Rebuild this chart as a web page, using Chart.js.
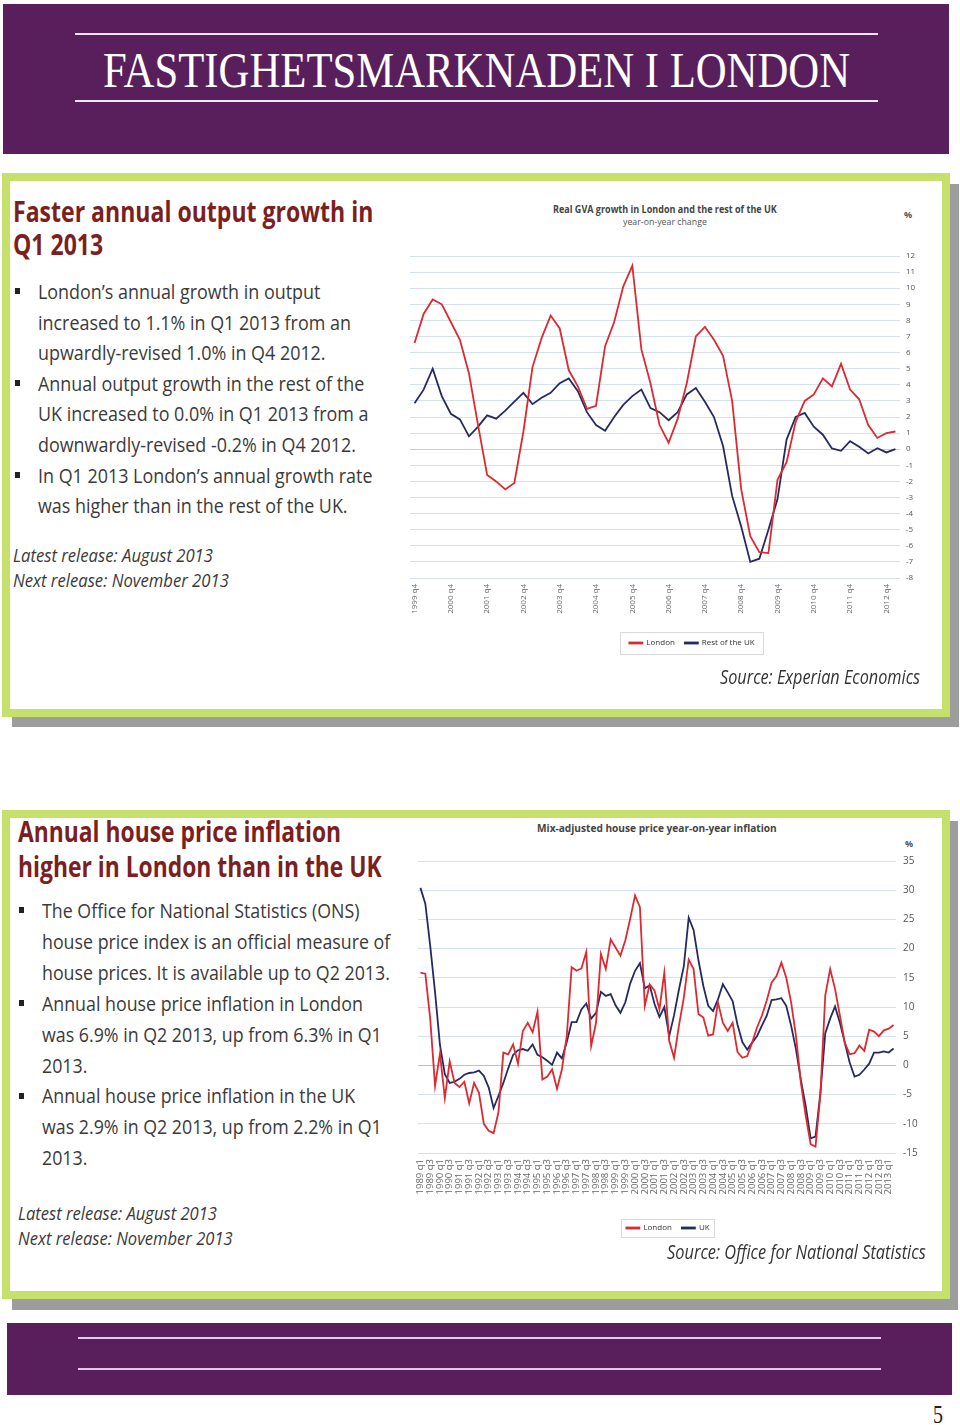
<!DOCTYPE html>
<html>
<head>
<meta charset="utf-8">
<script src="https://cdn.jsdelivr.net/npm/chart.js@4.4.0/dist/chart.umd.min.js"></script>
<style>
  html, body { margin: 0; padding: 0; background: #fff; }
  body { width: 960px; height: 1425px; position: relative; overflow: hidden; font-family: "Open Sans", sans-serif; }
  .band { position: absolute; background: #581f5c; }
  .rule { position: absolute; height: 2px; background: #f1e7f2; }
  .shadow { position: absolute; background: #9d9d9d; }
  .panel { position: absolute; background: #fff; border: 8px solid #c6e06c; box-sizing: border-box; }
  .txt { position: absolute; white-space: nowrap; transform-origin: 0 0; }
  .txt > div { width: max-content; }
  .head { font-weight: 700; color: #7b1f1f; font-size: 29px; }
  .body { color: #3a3a3a; font-size: 20px; line-height: 30.6px; }
  .note { font-style: italic; color: #3a3a3a; font-size: 18px; line-height: 25px; }
  .src { font-style: italic; color: #333; font-size: 20px; line-height: 27px; }
  .ct { font-weight: 700; color: #444; font-size: 10px; line-height: 14px; }
  .bullet { position: absolute; width: 5px; height: 6px; background: #222; }
  canvas { position: absolute; }
</style>
</head>
<body>

<!-- header band -->
<div class="band" style="left:3px;top:4px;width:946px;height:150px"></div>
<div class="rule" style="left:75px;top:33px;width:803px"></div>
<div class="rule" style="left:75px;top:100px;width:803px"></div>
<div class="txt fit" data-w="747" style="left:103px;top:41px;font-family:'Liberation Serif',serif;font-size:50px;color:#fff"><div>FASTIGHETSMARKNADEN I LONDON</div></div>

<!-- panel 1 -->
<div class="shadow" style="left:12px;top:184px;width:947px;height:543px"></div>
<div class="panel" style="left:2px;top:173px;width:948px;height:544px"></div>

<div class="txt head fit" data-w="360" style="left:13px;top:194px;line-height:33px">
  <div>Faster annual output growth in</div>
  <div>Q1 2013</div>
</div>
<div class="bullet" style="left:15px;top:288px"></div>
<div class="bullet" style="left:15px;top:380px"></div>
<div class="bullet" style="left:15px;top:472px"></div>
<div class="txt body fit" data-w="282" style="left:38px;top:277px">
  <div>London’s annual growth in output</div>
  <div>increased to 1.1% in Q1 2013 from an</div>
  <div>upwardly-revised 1.0% in Q4 2012.</div>
  <div>Annual output growth in the rest of the</div>
  <div>UK increased to 0.0% in Q1 2013 from a</div>
  <div>downwardly-revised -0.2% in Q4 2012.</div>
  <div>In Q1 2013 London’s annual growth rate</div>
  <div>was higher than in the rest of the UK.</div>
</div>
<div class="txt note fit" data-w="200" style="left:13px;top:543px">
  <div>Latest release: August 2013</div>
  <div>Next release: November 2013</div>
</div>

<div class="txt ct fit" data-w="224" style="left:553px;top:202px"><div>Real GVA growth in London and the rest of the UK</div></div>
<div class="txt fit" data-w="84" style="left:623px;top:216px;font-size:9px;line-height:12px;color:#555"><div>year-on-year change</div></div>
<div class="txt" style="left:904px;top:209px;font-size:9px;line-height:12px;font-weight:700;color:#555"><div>%</div></div>
<canvas id="gvaChart" width="540" height="435" style="left:400px;top:230px;width:540px;height:435px"></canvas>
<div class="txt src fit" data-w="200" style="left:720px;top:663px"><div>Source: Experian Economics</div></div>

<!-- panel 2 -->
<div class="shadow" style="left:12px;top:821px;width:946px;height:489px"></div>
<div class="panel" style="left:2px;top:810px;width:948px;height:489px"></div>

<div class="txt head fit" data-w="364" data-line="1" style="left:18px;top:813px;line-height:35px">
  <div>Annual house price inflation</div>
  <div>higher in London than in the UK</div>
</div>
<div class="bullet" style="left:19px;top:907px"></div>
<div class="bullet" style="left:19px;top:1000px"></div>
<div class="bullet" style="left:19px;top:1093px"></div>
<div class="txt body fit" data-w="348" data-line="2" style="left:42px;top:896px;line-height:30.9px">
  <div>The Office for National Statistics (ONS)</div>
  <div>house price index is an official measure of</div>
  <div>house prices. It is available up to Q2 2013.</div>
  <div>Annual house price inflation in London</div>
  <div>was 6.9% in Q2 2013, up from 6.3% in Q1</div>
  <div>2013.</div>
  <div>Annual house price inflation in the UK</div>
  <div>was 2.9% in Q2 2013, up from 2.2% in Q1</div>
  <div>2013.</div>
</div>
<div class="txt note fit" data-w="199" style="left:18px;top:1201px">
  <div>Latest release: August 2013</div>
  <div>Next release: November 2013</div>
</div>

<div class="txt ct fit" data-w="240" style="left:537px;top:821px;font-size:10.5px"><div>Mix-adjusted house price year-on-year inflation</div></div>
<div class="txt" style="left:905px;top:838px;font-size:9px;line-height:12px;font-weight:700;color:#555"><div>%</div></div>
<canvas id="hpiChart" width="540" height="410" style="left:400px;top:840px;width:540px;height:410px"></canvas>
<div class="txt src fit" data-w="259" style="left:667px;top:1238px"><div>Source: Office for National Statistics</div></div>

<!-- footer band -->
<div class="band" style="left:7px;top:1323px;width:945px;height:72px"></div>
<div class="rule" style="left:78px;top:1337px;width:803px;background:#e6c8ee"></div>
<div class="rule" style="left:78px;top:1368px;width:803px;background:#e6c8ee"></div>
<div class="txt fit" data-w="10" style="left:933px;top:1400px;font-family:'Liberation Serif',serif;font-size:26px;color:#222"><div>5</div></div>

<script>
// ---- data: real GVA growth, year-on-year % (1999 q4 .. 2013 q1)
const londonGva = [6.6, 8.4, 9.3, 9.0, 7.9, 6.8, 4.7, 1.5, -1.6, -2.0,
  -2.5, -2.1, 1.1, 5.1, 6.9, 8.3, 7.5, 4.9, 3.9, 2.5,
  2.7, 6.4, 7.9, 10.1, 11.4, 6.2, 4.1, 1.5, 0.4, 1.9,
  4.1, 7.0, 7.6, 6.8, 5.8, 3.0, -2.5, -5.4, -6.4, -6.45,
  -1.9, -0.8, 1.7, 3.0, 3.4, 4.4, 3.9, 5.3, 3.7, 3.1,
  1.5, 0.7, 1.0, 1.1];
const restUkGva = [2.85, 3.7, 5.0, 3.3, 2.2, 1.85, 0.8, 1.4, 2.1, 1.9,
  2.4, 2.95, 3.5, 2.8, 3.2, 3.5, 4.1, 4.4, 3.6, 2.3,
  1.5, 1.15, 2.0, 2.75, 3.3, 3.7, 2.55, 2.3, 1.8, 2.3,
  3.4, 3.8, 2.95, 2.0, 0.2, -2.9, -4.8, -7.0, -6.8, -5.0,
  -3.1, 0.6, 2.0, 2.25, 1.4, 0.9, 0.05, -0.1, 0.5, 0.15,
  -0.27, 0.06, -0.2, 0.0];
const gvaTickLabels = ['1999 q4', '2000 q4', '2001 q4', '2002 q4', '2003 q4', '2004 q4', '2005 q4',
  '2006 q4', '2007 q4', '2008 q4', '2009 q4', '2010 q4', '2011 q4', '2012 q4'];
const gvaYTicks = [-8, -7, -6, -5, -4, -3, -2, -1, 0, 1, 2, 3, 4, 5, 6, 7, 8, 9, 10, 11, 12];

// ---- data: mix-adjusted house price inflation, % (1989 q1 .. 2013 q2)
const londonHpi = [15.9, 15.7, 8.0, -3.5, 2.0, -5.6, 0.7, -3.0, -3.7, -2.8,
  -6.5, -3.0, -4.7, -10.0, -11.2, -11.6, -8.0, 2.2, 1.9, 3.6,
  0.3, 5.9, 7.3, 5.7, 9.2, -2.4, -1.9, -0.7, -4.0, -0.7,
  5.0, 16.8, 16.2, 16.6, 19.4, 3.3, 7.3, 19.1, 16.5, 21.6,
  20.2, 18.8, 21.4, 25.1, 29.1, 27.1, 10.2, 13.9, 12.8, 9.6,
  15.9, 4.2, 1.3, 6.8, 11.6, 18.1, 16.5, 8.8, 8.2, 5.1,
  5.3, 10.8, 7.3, 5.9, 7.3, 2.3, 1.3, 1.6, 3.9, 6.5,
  8.5, 11.1, 14.2, 15.3, 17.6, 15.0, 10.8, 5.0, -3.0, -8.7,
  -13.5, -13.9, -5.0, 12.0, 16.5, 13.1, 8.5, 3.9, 1.9, 2.1,
  3.4, 2.5, 6.1, 5.8, 5.0, 6.0, 6.3, 6.9];
const ukHpi = [30.4, 27.7, 20.5, 12.5, 3.5, -1.5, -3.0, -2.8, -2.3, -1.6,
  -1.3, -1.2, -0.9, -1.8, -3.8, -7.3, -5.2, -3.0, -0.5, 1.8,
  2.6, 2.8, 2.5, 3.6, 1.8, 1.4, 0.8, 0.1, 2.2, 1.2,
  4.0, 7.4, 7.4, 9.6, 10.6, 8.0, 9.0, 12.6, 11.9, 12.2,
  10.3, 9.0, 10.8, 14.0, 16.2, 17.5, 13.2, 13.7, 10.5, 8.3,
  10.0, 5.0, 8.6, 13.0, 17.0, 25.3, 23.2, 18.0, 13.6, 10.2,
  9.3, 11.3, 13.9, 12.5, 11.0, 7.0, 4.0, 2.7, 3.9, 5.0,
  6.8, 8.5, 11.2, 11.3, 11.5, 10.2, 6.8, 2.7, -2.5, -7.0,
  -12.5, -12.2, -4.7, 5.5, 8.0, 10.1, 7.3, 3.9, 0.5, -1.9,
  -1.6, -0.7, 0.3, 2.2, 2.2, 2.4, 2.2, 2.9];
const hpiYTicks = [-15, -10, -5, 0, 5, 10, 15, 20, 25, 30, 35];

// quarter category names, e.g. "1999 q4"
function quarters(year, q, count) {
  const out = [];
  for (let i = 0; i < count; i++) {
    out.push(year + ' q' + q);
    q++;
    if (q > 4) { q = 1; year++; }
  }
  return out;
}
const gvaQuarters = quarters(1999, 4, londonGva.length);
const hpiQuarters = quarters(1989, 1, londonHpi.length);
const hpiTickLabels = hpiQuarters.filter(function (l) { return /q[13]$/.test(l); });

// squeeze the text blocks to the width they have in the picture
document.querySelectorAll('.fit').forEach(function (el) {
  const line = el.children[Number(el.dataset.line || 0)];
  el.style.transform = 'scaleX(' + (Number(el.dataset.w) / line.offsetWidth) + ')';
});

const RED = '#dc2a30';
const NAVY = '#252a60';
const GRID = '#d3e2ee';

// moves the legend to where it sits in the picture and draws its frame
const legendFrame = {
  id: 'legendFrame',
  afterLayout: function (chart, args, opts) {
    const l = chart.legend;
    l.left += opts.dx; l.right += opts.dx;
    l.top += opts.dy; l.bottom += opts.dy;
  },
  afterDraw: function (chart, args, opts) {
    const boxes = chart.legend.legendHitBoxes;
    if (!boxes || !boxes.length) return;
    let x0 = Infinity, x1 = -Infinity, y0 = Infinity, y1 = -Infinity;
    boxes.forEach(function (b) {
      x0 = Math.min(x0, b.left); x1 = Math.max(x1, b.left + b.width);
      y0 = Math.min(y0, b.top); y1 = Math.max(y1, b.top + b.height);
    });
    const ctx = chart.ctx;
    ctx.save();
    ctx.strokeStyle = '#d9d9d9';
    ctx.lineWidth = 1;
    ctx.strokeRect(Math.round(x0 - opts.padX) + 0.5, Math.round(y0 - opts.padY) + 0.5,
      Math.round(x1 - x0 + 2 * opts.padX), Math.round(y1 - y0 + 2 * opts.padY));
    ctx.restore();
  }
};

function lineSet(label, data, color) {
  return {
    label: label, data: data, borderColor: color, backgroundColor: color,
    borderWidth: 1.8, pointRadius: 0, tension: 0
  };
}

function makeChart(id, cfg) {
  return new Chart(document.getElementById(id), {
    type: 'line',
    data: { labels: cfg.labels, datasets: cfg.datasets },
    plugins: [legendFrame],
    options: {
      responsive: false,
      animation: false,
      events: [],
      layout: { padding: cfg.padding },
      plugins: {
        tooltip: { enabled: false },
        legend: {
          position: 'bottom',
          labels: { boxWidth: 13, boxHeight: 1, padding: 10, color: '#333', font: { family: 'Open Sans', size: 8 } }
        },
        legendFrame: cfg.frame
      },
      scales: {
        x: {
          offset: true,
          grid: { display: false, drawTicks: false },
          border: { display: false },
          ticks: {
            autoSkip: false, minRotation: 90, maxRotation: 90, padding: 6,
            color: '#666', font: { family: 'Open Sans', size: cfg.xFont },
            callback: function (value) {
              const l = this.getLabelForValue(value);
              return cfg.tickLabels.includes(l) ? l : '';
            }
          },
          afterFit: function (s) { s.height = 45; }
        },
        y: {
          position: 'right',
          min: cfg.yTicks[0],
          max: cfg.yTicks[cfg.yTicks.length - 1],
          grid: {
            drawTicks: false,
            color: function (c) { return c.tick && c.tick.value === 0 ? cfg.zeroColor : GRID; }
          },
          border: { display: false },
          ticks: {
            stepSize: cfg.yTicks[1] - cfg.yTicks[0], padding: cfg.yPad,
            color: '#555', font: { family: 'Open Sans', size: cfg.yFont }
          },
          afterFit: function (s) { s.width = cfg.yWidth; }
        }
      }
    }
  });
}

makeChart('gvaChart', {
  labels: gvaQuarters,
  datasets: [lineSet('London', londonGva, RED), lineSet('Rest of the UK', restUkGva, NAVY)],
  tickLabels: gvaTickLabels,
  yTicks: gvaYTicks,
  padding: { top: 26, left: 10, right: 16, bottom: 14 },
  yWidth: 24, yPad: 6, yFont: 8, xFont: 8,
  zeroColor: '#bcd3e4',
  frame: { dx: 25, dy: 6, padX: 9, padY: 7 }
});

makeChart('hpiChart', {
  labels: hpiQuarters,
  datasets: [lineSet('London', londonHpi, RED), lineSet('UK', ukHpi, NAVY)],
  tickLabels: hpiTickLabels,
  yTicks: hpiYTicks,
  padding: { top: 21, left: 18, right: 14, bottom: 24 },
  yWidth: 30, yPad: 7, yFont: 10, xFont: 9.5,
  zeroColor: '#a9c8de',
  frame: { dx: -4, dy: 16, padX: 5, padY: 5 }
});
</script>
</body>
</html>
